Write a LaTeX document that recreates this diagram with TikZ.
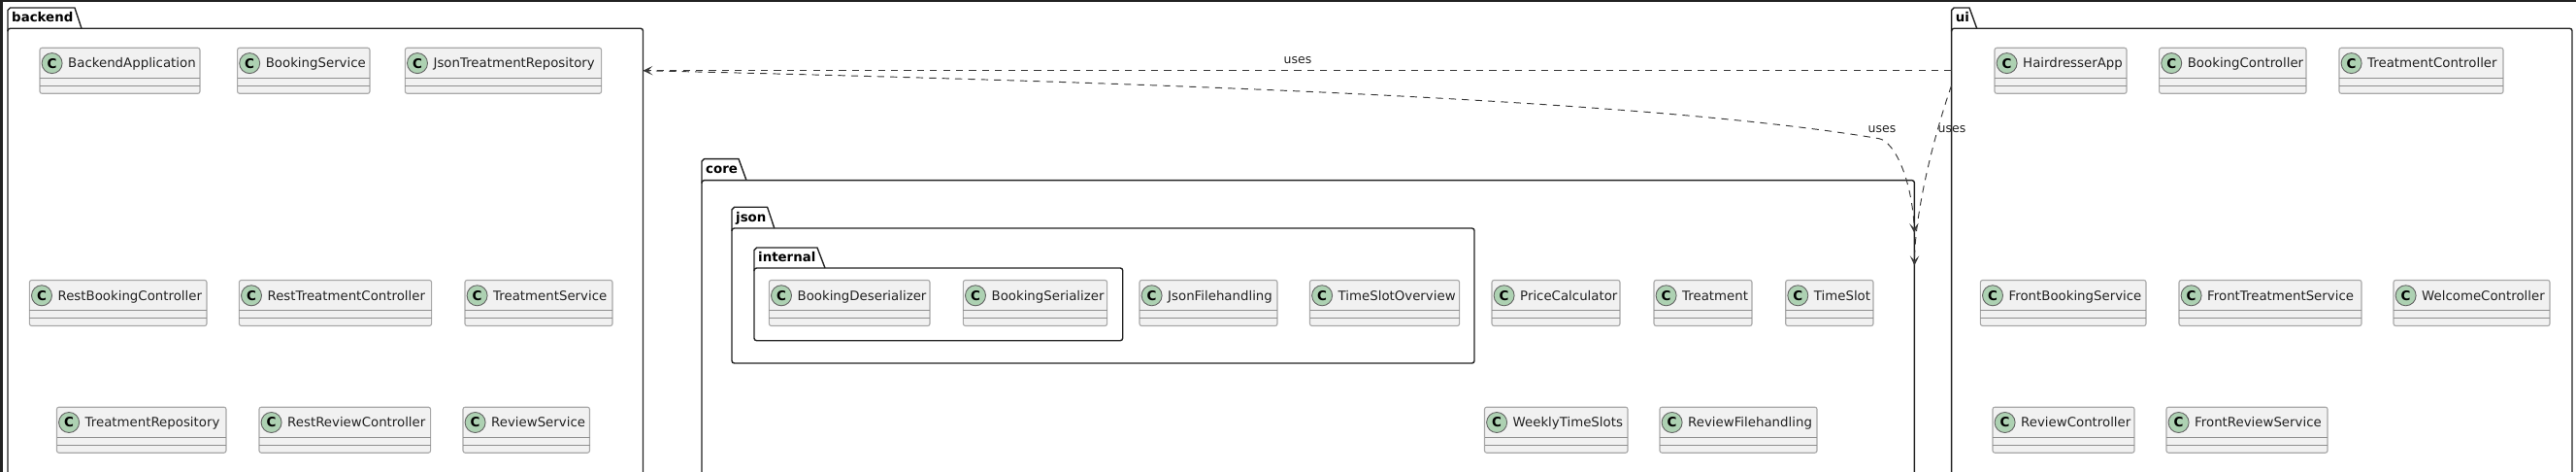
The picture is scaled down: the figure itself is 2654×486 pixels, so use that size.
\documentclass[tikz,border=0pt]{standalone}
\usepackage{fontspec}
\setmainfont{DejaVu Sans}
\usetikzlibrary{arrows.meta,positioning}
\definecolor{clsfill}{HTML}{F1F1F1}
\definecolor{clsline}{HTML}{A8A8A8}
\definecolor{spot}{HTML}{ADD1B2}
\definecolor{ink}{HTML}{222222}
\tikzset{
  x=1pt,y=-1pt,
  clsbox/.style={draw=clsline,fill=clsfill,line width=1.1pt,rounded corners=2.2pt,inner sep=0pt,outer sep=0pt,anchor=north west,minimum height=47pt},
  clssep/.style={draw=clsline!85!black,line width=1pt},
  clsspot/.style={circle,draw=ink!70,fill=spot,line width=0.9pt,minimum size=21pt,inner sep=0pt,font=\fontsize{13.5}{14}\bfseries\selectfont,text=black},
  clstext/.style={anchor=base west,inner sep=0pt,text=ink,font=\fontsize{13.33}{16}\selectfont},
  pkgbody/.style={draw=ink,line width=1.4pt,rounded corners=2.5pt,inner sep=0pt,outer sep=0pt,anchor=north west},
  pkgtab/.style={draw=ink,line width=1.4pt,line join=round},
  pkgtext/.style={anchor=base west,inner sep=0pt,text=black,font=\fontsize{13.35}{16}\bfseries\selectfont},
  rel/.style={draw=ink!90,line width=0.95pt,dash pattern=on 7.3pt off 6.1pt},
  relhead/.style={-{Stealth[length=10pt,width=9.5pt,inset=5pt]}},
  rellabel/.style={inner sep=0pt,text=ink,font=\fontsize{12.5}{15}\selectfont},
  frameband/.style={fill=ink}
}
% id, x1, x2, y top, text
\newcommand{\cls}[5]{%
  \pgfmathsetmacro{\clsW}{#3-#2}%
  \node[clsbox,minimum width=\clsW pt] (#1) at (#2,#4) {};
  \draw[clssep] (#2,#4+31) -- (#3,#4+31);
  \draw[clssep] (#2,#4+39) -- (#3,#4+39);
  \node[clsspot] (#1c) at (#2+12.6,#4+15.8) {C};
  \node[clstext] (#1t) at (#2+29,#4+20.6) {#5};
}
% id, x1, x2, tab top, bar, bottom, tab x top, tab x bar, text
\newcommand{\pkg}[9]{%
  \pgfmathsetmacro{\pkgW}{#3-#2}%
  \pgfmathsetmacro{\pkgH}{#6-#5}%
  \node[pkgbody,minimum width=\pkgW pt,minimum height=\pkgH pt] (#1) at (#2,#5) {};
  \draw[pkgtab] (#2,#5+3) -- (#2,#4+2.5) -- (#2+2.5,#4) -- (#7,#4) -- (#8,#5);
  \node[pkgtext] (#1t) at (#2+4,#5-6.8) {#9};
}
\begin{document}
\begin{tikzpicture}
\useasboundingbox (0,0) rectangle (2654,486);
\clip (0,0) rectangle (2654,486);
\fill[white] (0,0) rectangle (2654,486);
\fill[frameband] (0,0) rectangle (2654,1.7);
\fill[frameband] (0,0) rectangle (2.6,486);

% packages
\pkg{backend}{8}{662.5}{8}{29.3}{520}{77}{84}{backend}
\pkg{core}{723}{1972.4}{163.7}{185.7}{520}{761}{769}{core}
\pkg{json}{754}{1519}{213.3}{235}{374}{790.6}{797.8}{json}
\pkg{internal}{777}{1156.7}{255}{276}{350.7}{842}{850}{internal}
\pkg{ui}{2010.6}{2650}{8}{29.3}{520}{2029}{2036.7}{ui}

% backend classes
\cls{ba}{41}{206}{49.3}{BackendApplication}
\cls{bs}{244.6}{381}{49.3}{BookingService}
\cls{jtr}{417.4}{619.6}{49.3}{JsonTreatmentRepository}
\cls{rbc}{30.4}{213}{288.5}{RestBookingController}
\cls{rtc}{246.4}{444.6}{288.5}{RestTreatmentController}
\cls{ts}{479}{631}{288.5}{TreatmentService}
\cls{tr}{58.5}{233}{419.2}{TreatmentRepository}
\cls{rrc}{267}{443.6}{419.2}{RestReviewController}
\cls{rs}{477}{607.5}{419.2}{ReviewService}

% core classes
\cls{bd}{792.4}{958}{288.5}{BookingDeserializer}
\cls{bz}{992.4}{1140.6}{288.5}{BookingSerializer}
\cls{jf}{1174}{1316}{288.5}{JsonFilehandling}
\cls{tso}{1349.5}{1503.6}{288.5}{TimeSlotOverview}
\cls{pc}{1537}{1669}{288.5}{PriceCalculator}
\cls{tm}{1704}{1805}{288.5}{Treatment}
\cls{tsl}{1839.7}{1930}{288.5}{TimeSlot}
\cls{wts}{1529.5}{1677}{419.2}{WeeklyTimeSlots}
\cls{rf}{1710}{1872}{419.2}{ReviewFilehandling}

% ui classes
\cls{ha}{2055}{2191}{49.3}{HairdresserApp}
\cls{bc}{2224.6}{2376}{49.3}{BookingController}
\cls{tc}{2410}{2579}{49.3}{TreatmentController}
\cls{fbs}{2040.4}{2211}{288.5}{FrontBookingService}
\cls{fts}{2245}{2433}{288.5}{FrontTreatmentService}
\cls{wc}{2466}{2627}{288.5}{WelcomeController}
\cls{rc}{2053}{2199}{419.2}{ReviewController}
\cls{frs}{2232}{2398}{419.2}{FrontReviewService}

% connector ends on the package edges
\coordinate (uiA) at (ui.west |- 0,72.7);
\coordinate (uiB) at (ui.west |- 0,88);
\coordinate (beA) at (backend.east |- 0,72.7);
\coordinate (coA) at (core.east |- 0,240);
\coordinate (coB) at (core.east |- 0,273.3);

\draw[rel,relhead] (uiA) -- (beA);
\draw[rel,relhead] (beA) .. controls (1200,85) and (1700,103) .. (1936,142.7)
   .. controls (1952,146) and (1970,185) .. (coA);
\draw[rel,relhead] (uiB) .. controls (1994,135) and (1973,215) .. (coB);

\node[rellabel] (l1) at (1337,62) {uses};
\node[rellabel] (l2) at (1939,133) {uses};
\node[rellabel] (l3) at (2011,133) {uses};
\end{tikzpicture}
\end{document}
